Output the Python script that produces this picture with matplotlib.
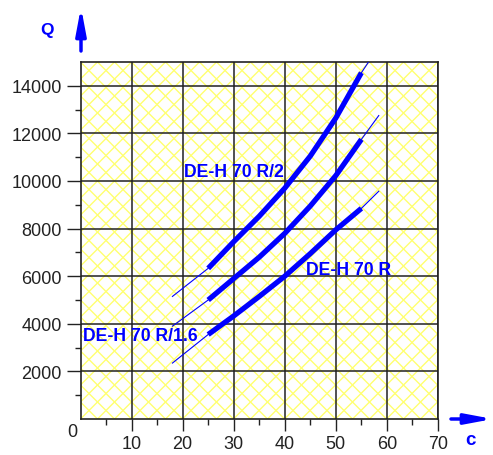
import matplotlib
matplotlib.use("Agg")
import matplotlib.pyplot as plt
from matplotlib.transforms import IdentityTransform

plt.rcParams['font.family'] = ['Liberation Sans', 'DejaVu Sans']

BLUE = '#0000ff'
HATCH = '#ffff70'

# thick (working range) part of each curve
c_thick = [25, 30, 35, 40, 45, 50, 55]
q_r = [3550, 4330, 5150, 6000, 6950, 7950, 8850]
q_r16 = [5000, 5900, 6800, 7800, 8950, 10230, 11750]
q_r2 = [6330, 7450, 8520, 9700, 11050, 12650, 14550]

# thin extensions (start and end)
c_start = 18
q_start = [2350, 3900, 5150]
c_end = [58.4, 58.4, 56.4]
q_end = [9570, 12750, 15000]

labels = ['DE-H 70 R', 'DE-H 70 R/1.6', 'DE-H 70 R/2']
label_pos = [(44.2, 6300), (0.45, 3490), (20.3, 10390)]

x_ticks = [10, 20, 30, 40, 50, 60, 70]
y_ticks = [2000, 4000, 6000, 8000, 10000, 12000, 14000]

W, H = 493, 456
x0, x1, y0, y1 = 80.5, 438, 36, 393  # axes box in figure pixels (from bottom)

fig = plt.figure(figsize=(W / 100, H / 100), dpi=100)
ax = fig.add_axes([x0 / W, y0 / H, (x1 - x0) / W, (y1 - y0) / H])
ax.set_xlim(0, 70)
ax.set_ylim(0, 15000)

# yellow cross hatch, drawn in pixel space
step = 17
n = int((x1 - x0 + y1 - y0) / step) + 2
for i in range(-n, n):
    s = x0 + i * step
    for l in (ax.plot([s, s + 500], [y0, y0 + 500], color=HATCH, lw=1.0,
                      transform=IdentityTransform(), zorder=0.5) +
              ax.plot([s, s - 500], [y0, y0 + 500], color=HATCH, lw=1.0,
                      transform=IdentityTransform(), zorder=0.5)):
        l.set_clip_path(ax.patch)

ax.set_xticks(x_ticks)
ax.set_yticks(y_ticks)
ax.set_xticks(range(5, 70, 10), minor=True)
ax.set_yticks(range(1000, 15000, 2000), minor=True)
ax.grid(True, which='major', color='#222222', linewidth=1.1, zorder=1)
ax.set_axisbelow(False)
for s in ax.spines.values():
    s.set_color('#222222')
    s.set_linewidth(1.2)
ax.tick_params(axis='x', which='major', length=8.6, width=1, pad=3, labelsize=13, colors='#222222')
ax.tick_params(axis='y', which='major', length=10, width=1, pad=3.5, labelsize=13, colors='#222222')
ax.tick_params(which='minor', length=4.3, width=1, colors='#222222')

# curves
for i, q in enumerate([q_r, q_r16, q_r2]):
    ax.plot([c_start, c_thick[0]], [q_start[i], q[0]], color=BLUE, linewidth=0.8, zorder=3)
    ax.plot([c_thick[-1], c_end[i]], [q[-1], q_end[i]], color=BLUE, linewidth=0.8, zorder=3)
    ax.plot(c_thick, q, color=BLUE, linewidth=3.8, solid_capstyle='butt',
            solid_joinstyle='round', zorder=4)

for txt, (x, y) in zip(labels, label_pos):
    ax.text(x, y, txt, color=BLUE, fontsize=12.7, fontweight='bold', ha='left', va='center', zorder=5)

# axis names and arrows
fig.text(47 / W, 1 - 30 / H, 'Q', color=BLUE, fontsize=12.5, fontweight='bold', ha='center', va='center')
fig.text(470 / W, 1 - 441 / H, 'c', color=BLUE, fontsize=13.5, fontweight='bold', ha='center', va='center')
fig.text(72 / W, 1 - 433 / H, '0', color='#222222', fontsize=13, ha='center', va='center')

arrow = dict(arrowstyle='-|>,head_length=0.8,head_width=0.15', color=BLUE, lw=2.5,
             mutation_scale=20, shrinkA=0, shrinkB=0)
ax.annotate('', xy=(81, H - 8), xytext=(81, H - 52), xycoords='figure pixels',
            textcoords='figure pixels', arrowprops=arrow, annotation_clip=False)
ax.annotate('', xy=(493, 36), xytext=(451, 36), xycoords='figure pixels',
            textcoords='figure pixels', arrowprops=arrow, annotation_clip=False)

fig.savefig('out.png', dpi=100)
